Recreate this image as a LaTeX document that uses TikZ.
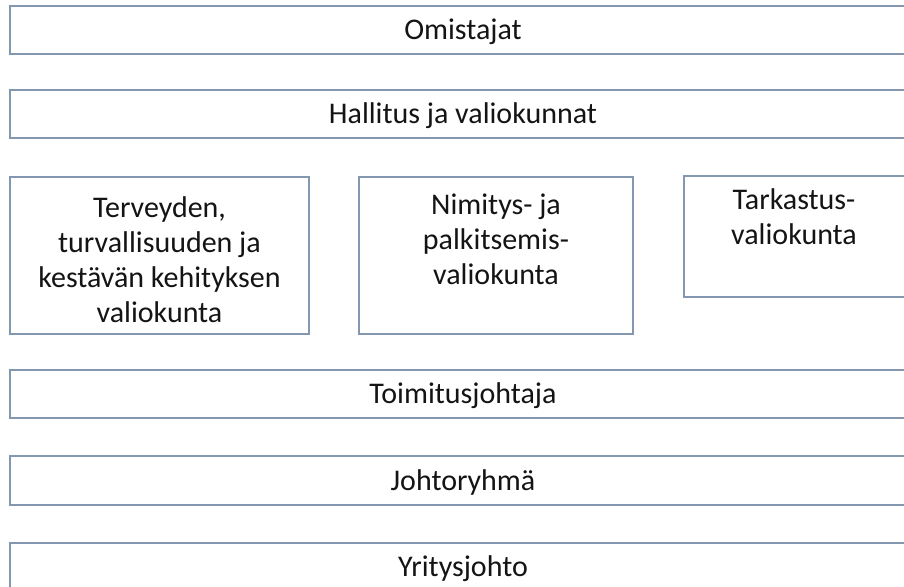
\documentclass[tikz,border=0pt]{standalone}
\usepackage{fontspec}
\setmainfont{Carlito}
\definecolor{edge}{HTML}{8497B0}
\definecolor{ink}{HTML}{141414}
\begin{document}
\begin{tikzpicture}[x=1pt,y=-1pt,
  box/.style={draw=edge,line width=1.3pt,fill=white},
  lbl/.style={text=ink,font=\fontsize{30}{35}\selectfont,inner sep=0pt,align=center}]
\useasboundingbox (0,0) rectangle (904,586);
\clip (0,0) rectangle (904,586);
\draw[box] (10,6) rectangle (916,54);
\node[lbl] (omistajat) at (463,32) {Omistajat};
\draw[box] (10,90) rectangle (916,138);
\node[lbl] (hallitus) at (463,115.5) {Hallitus ja valiokunnat};
\draw[box] (10,177) rectangle (309,334);
\node[lbl,anchor=north] (terveys) at (159.5,196) {Terveyden,\\turvallisuuden ja\\kestävän kehityksen\\valiokunta};
\draw[box] (359,177) rectangle (633,334);
\node[lbl,anchor=north] (nimitys) at (496,194) {Nimitys- ja\\palkitsemis-\\valiokunta};
\draw[box] (684,176) rectangle (906,297);
\node[lbl,anchor=north] (tarkastus) at (794,188) {Tarkastus-\\valiokunta};
\draw[box] (10,370) rectangle (916,418);
\node[lbl] (toimitus) at (463,395.5) {Toimitusjohtaja};
\draw[box] (10,456) rectangle (916,505);
\node[lbl] (johto) at (463,482) {Johtoryhmä};
\draw[box] (10,543) rectangle (916,591);
\node[lbl] (yritys) at (463,568.5) {Yritysjohto};
\end{tikzpicture}
\end{document}
